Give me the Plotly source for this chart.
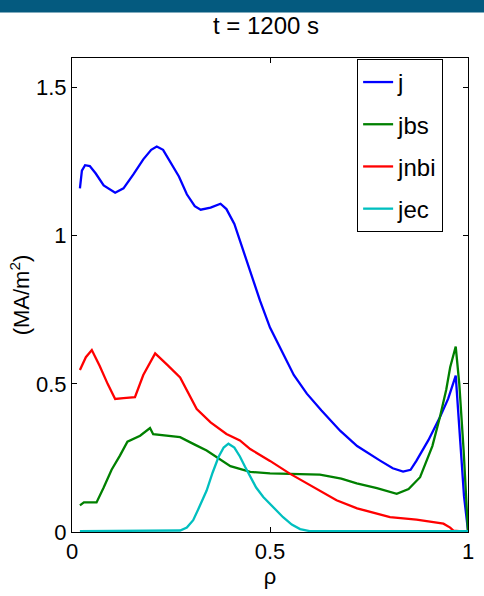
import plotly.graph_objects as go

# ---- data ----
j_rho = [0.02, 0.025, 0.033, 0.045, 0.06, 0.08, 0.109, 0.13, 0.155, 0.18, 0.2, 0.214, 0.23, 0.25,
         0.27, 0.29, 0.31, 0.325, 0.35, 0.375, 0.39, 0.41, 0.424, 0.45, 0.475, 0.5, 0.533, 0.56,
         0.593, 0.63, 0.677, 0.72, 0.778, 0.81, 0.836, 0.855, 0.87, 0.9, 0.929, 0.95, 0.969,
         0.98, 0.99, 1.0]
j_val = [1.16, 1.22, 1.238, 1.235, 1.21, 1.17, 1.145, 1.16, 1.207, 1.258, 1.29, 1.301, 1.29, 1.245,
         1.20, 1.14, 1.10, 1.088, 1.095, 1.108, 1.09, 1.04, 0.985, 0.88, 0.78, 0.69, 0.60, 0.53,
         0.467, 0.41, 0.342, 0.29, 0.241, 0.215, 0.204, 0.21, 0.241, 0.31, 0.387, 0.45, 0.528,
         0.33, 0.12, 0.005]

jbs_rho = [0.02, 0.03, 0.045, 0.062, 0.08, 0.1, 0.121, 0.14, 0.172, 0.19, 0.197, 0.205, 0.22,
           0.273, 0.31, 0.34, 0.4, 0.45, 0.5, 0.55, 0.626, 0.68, 0.719, 0.77, 0.82, 0.85, 0.879,
           0.91, 0.929, 0.945, 0.955, 0.969, 0.978, 0.989, 1.0]
jbs_val = [0.09, 0.10, 0.10, 0.10, 0.15, 0.21, 0.258, 0.305, 0.325, 0.345, 0.351, 0.33, 0.328,
           0.32, 0.295, 0.275, 0.222, 0.203, 0.198, 0.197, 0.194, 0.18, 0.164, 0.148, 0.129,
           0.145, 0.185, 0.29, 0.387, 0.48, 0.556, 0.626, 0.5, 0.275, 0.0]

jnbi_rho = [0.02, 0.035, 0.05, 0.07, 0.09, 0.109, 0.13, 0.159, 0.18, 0.21, 0.24, 0.273, 0.315,
            0.35, 0.39, 0.424, 0.45, 0.5, 0.55, 0.6, 0.668, 0.72, 0.803, 0.87, 0.938, 0.955,
            0.963, 1.0]
jnbi_val = [0.547, 0.59, 0.614, 0.56, 0.50, 0.449, 0.452, 0.455, 0.53, 0.603, 0.565, 0.522,
            0.415, 0.37, 0.331, 0.309, 0.28, 0.24, 0.197, 0.16, 0.107, 0.08, 0.05, 0.042,
            0.028, 0.015, 0.005, 0.0]

jec_rho = [0.02, 0.1, 0.2, 0.273, 0.29, 0.306, 0.32, 0.34, 0.355, 0.37, 0.383, 0.395, 0.41,
           0.424, 0.437, 0.45, 0.465, 0.483, 0.51, 0.533, 0.555, 0.576, 0.6, 0.7, 0.8, 0.9, 1.0]
jec_val = [0.003, 0.003, 0.003, 0.005, 0.015, 0.04, 0.08, 0.14, 0.20, 0.253, 0.285, 0.298,
           0.285, 0.255, 0.22, 0.185, 0.15, 0.118, 0.08, 0.05, 0.025, 0.01, 0.003, 0.003,
           0.003, 0.003, 0.003]

x_ticks = [0, 0.5, 1]
x_ticklabels = ["0", "0.5", "1"]
y_ticks = [0, 0.5, 1, 1.5]
y_ticklabels = ["0", "0.5", "1", "1.5"]

FONT = "Liberation Sans, Arial, Helvetica, sans-serif"

series = [
    ("j", j_rho, j_val, "#0000ff"),
    ("jbs", jbs_rho, jbs_val, "#008000"),
    ("jnbi", jnbi_rho, jnbi_val, "#ff0000"),
    ("jec", jec_rho, jec_val, "#00bfbf"),
]

fig = go.Figure()
for name, xs, ys, col in series:
    fig.add_trace(go.Scatter(x=xs, y=ys, mode="lines", name=name, legendgroup=name,
                             line=dict(color=col, width=2.3)))

axis_common = dict(showline=True, linecolor="black", linewidth=1, mirror="ticks",
                   ticks="inside", ticklen=5, tickcolor="black", showgrid=False,
                   zeroline=False, automargin=False,
                   tickfont=dict(family=FONT, size=22, color="black"))

fig.update_xaxes(range=[0, 1], tickvals=x_ticks, ticktext=x_ticklabels,
                 title=dict(text="ρ", font=dict(family=FONT, size=22, color="black"), standoff=0),
                 **axis_common)
fig.update_yaxes(range=[0, 1.6], tickvals=y_ticks, ticktext=y_ticklabels,
                 title=dict(text="(MA/m<sup>2</sup>)", font=dict(family=FONT, size=22, color="black"),
                            standoff=0),
                 **axis_common)

fig.update_layout(
    width=484, height=596,
    margin=dict(l=72, r=16, t=58, b=64),
    paper_bgcolor="white", plot_bgcolor="white",
    font=dict(family=FONT, color="black"),
    showlegend=True,
    legend=dict(x=0.72, y=0.998, xanchor="left", yanchor="top",
                bgcolor="white", bordercolor="black", borderwidth=1,
                font=dict(family=FONT, size=24, color="black"),
                tracegroupgap=8, itemwidth=30),
    shapes=[dict(type="rect", xref="paper", yref="paper", x0=-0.5, x1=1.5,
                 y0=1.096, y1=1.25, fillcolor="#045a7f", line=dict(width=0), layer="above")],
    annotations=[dict(text="t = 1200 s", xref="paper", yref="paper", x=0.49, y=1.0696,
                      xanchor="center", yanchor="middle", showarrow=False,
                      font=dict(family=FONT, size=24, color="black"))],
)

fig.write_html("out.html", config={"displayModeBar": False},
               post_script="document.body.style.margin='0';document.body.style.padding='0';")
